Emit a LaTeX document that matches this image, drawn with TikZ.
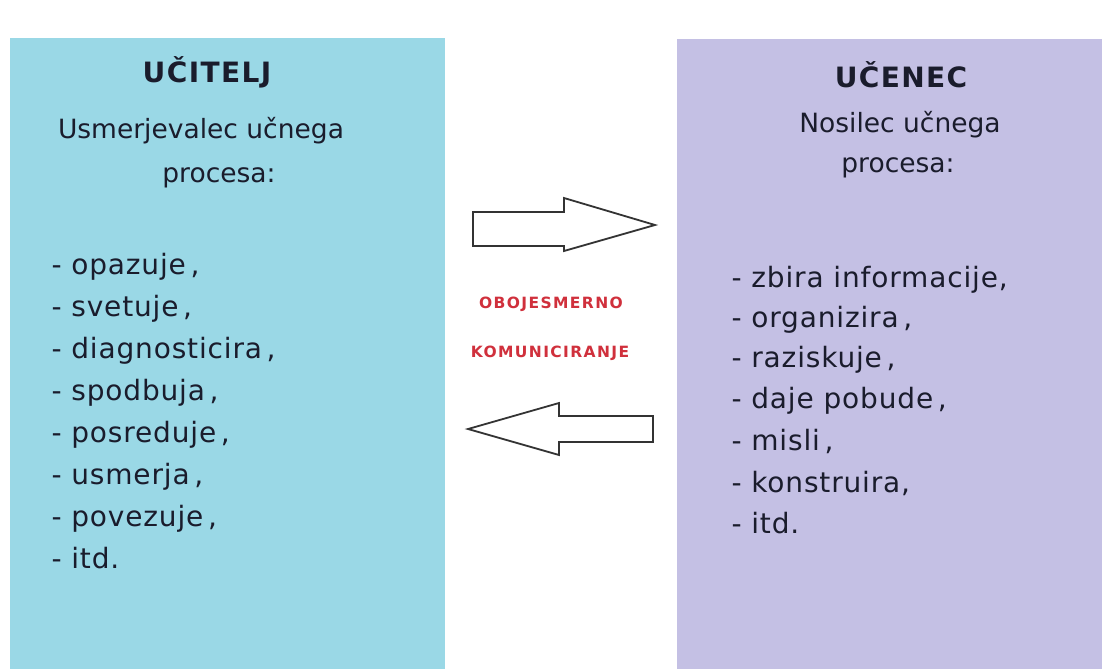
\documentclass[tikz,border=0pt]{standalone}
\usepackage{fontspec}
\setmainfont{DejaVu Sans}
\newfontfamily\redfont[LetterSpace=9]{DejaVu Sans}
\newfontfamily\itemfont[LetterSpace=3]{DejaVu Sans}
\newfontfamily\titlefont[LetterSpace=5]{DejaVu Sans}
\definecolor{cyanbox}{HTML}{9AD8E6}
\definecolor{lavbox}{HTML}{C4C0E4}
\definecolor{ink}{HTML}{1A1C2C}
\definecolor{redtxt}{HTML}{D0303C}
\definecolor{arrowline}{HTML}{333333}
\tikzset{
  panel/.style={draw=none, inner sep=0pt, anchor=north west},
  title/.style={anchor=base, text=ink, font=\titlefont\fontsize{28}{32}\selectfont\bfseries},
  sub/.style={anchor=base, text=ink, font=\fontsize{26.5}{32}\selectfont},
  item/.style={anchor=base west, text=ink, font=\itemfont\fontsize{28}{32}\selectfont},
  redlabel/.style={anchor=base, text=redtxt, font=\redfont\fontsize{15.5}{18}\selectfont\bfseries},
  blockarrow/.style={draw=arrowline, line width=1.8pt, fill=white, line join=miter}
}
\begin{document}
\begin{tikzpicture}[x=1pt,y=-1pt]
\useasboundingbox (0,0) rectangle (1102,669);
\fill[white] (0,0) rectangle (1102,669);
% panels
\node[panel, fill=cyanbox, minimum width=435pt, minimum height=631pt] (ucitelj) at (10,38) {};
\node[panel, fill=lavbox, minimum width=425pt, minimum height=630pt] (ucenec) at (677,39) {};
% left texts
\node[title] (t1) at (207,82) {UČITELJ};
\node[sub] (s1) at (201,138) {Usmerjevalec učnega};
\node[sub] (s2) at (219,182) {procesa:};
\node[item] (l1) at (48,274) {- opazuje\,,};
\node[item] (l2) at (48,316) {- svetuje\,,};
\node[item] (l3) at (48,358) {- diagnosticira\,,};
\node[item] (l4) at (48,400) {- spodbuja\,,};
\node[item] (l5) at (48,442) {- posreduje\,,};
\node[item] (l6) at (48,484) {- usmerja\,,};
\node[item] (l7) at (48,526) {- povezuje\,,};
\node[item] (l8) at (48,568) {- itd.};
% right texts
\node[title] (t2) at (901,87) {UČENEC};
\node[sub] (s3) at (900,132) {Nosilec učnega};
\node[sub] (s4) at (898,172) {procesa:};
\node[item] (r1) at (728,287) {- zbira informacije,};
\node[item] (r2) at (728,327) {- organizira\,,};
\node[item] (r3) at (728,367) {- raziskuje\,,};
\node[item] (r4) at (728,408) {- daje pobude\,,};
\node[item] (r5) at (728,450) {- misli\,,};
\node[item] (r6) at (728,492) {- konstruira,};
\node[item] (r7) at (728,533) {- itd.};
% middle
\draw[blockarrow] (473,212) -- (564,212) -- (564,198) -- (655,225) -- (564,251) -- (564,246) -- (473,246) -- cycle;
\draw[blockarrow] (653,416) -- (559,416) -- (559,403) -- (468,429) -- (559,455) -- (559,442) -- (653,442) -- cycle;
\node[redlabel] (m1) at (551,308) {OBOJESMERNO};
\node[redlabel] (m2) at (550,357) {KOMUNICIRANJE};
\end{tikzpicture}
\end{document}
